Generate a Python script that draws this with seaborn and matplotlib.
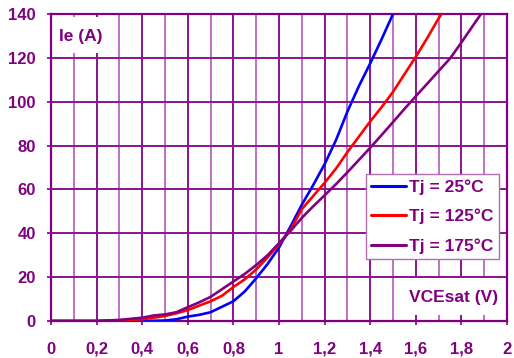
import matplotlib
matplotlib.use("Agg")
import matplotlib.pyplot as plt
import matplotlib.patches as mpatches
from matplotlib.ticker import MultipleLocator, FuncFormatter
import numpy as np
import pandas as pd
import seaborn as sns

# ---- data ----
v25 = [0.0, 0.1, 0.2, 0.3, 0.4, 0.45, 0.5, 0.55, 0.6, 0.65, 0.7, 0.75, 0.8, 0.85,
       0.9, 0.95, 1.0, 1.05, 1.1, 1.15, 1.2, 1.25, 1.3, 1.35, 1.4, 1.45, 1.5]
i25 = [0, 0, 0, 0, 0, 0.1, 0.2, 0.8, 2, 2.8, 4, 6.5, 9, 13.5,
       19.5, 26, 33.5, 43, 53, 62, 71.5, 82.5, 95.5, 107, 117.5, 128.5, 140]

v125 = [0.0, 0.1, 0.2, 0.3, 0.35, 0.4, 0.45, 0.5, 0.55, 0.6, 0.65, 0.7, 0.75, 0.8,
        0.85, 0.9, 0.95, 1.0, 1.05, 1.1, 1.15, 1.2, 1.25, 1.3, 1.35, 1.4, 1.45,
        1.5, 1.55, 1.6, 1.65, 1.7, 1.713]
i125 = [0, 0, 0, 0.3, 0.5, 0.8, 1.5, 2.3, 3.5, 5, 7, 9, 11.5, 15.5,
        19, 23.5, 29, 35, 41.5, 51, 57, 63, 69.5, 77, 84, 91, 97.5,
        104.5, 112.5, 120.5, 129, 138, 140]

v175 = [0.0, 0.1, 0.2, 0.3, 0.35, 0.4, 0.45, 0.5, 0.55, 0.6, 0.65, 0.7, 0.75, 0.8,
        0.85, 0.9, 0.95, 1.0, 1.05, 1.1, 1.15, 1.2, 1.25, 1.3, 1.35, 1.4, 1.45,
        1.5, 1.55, 1.6, 1.65, 1.7, 1.75, 1.8, 1.85, 1.886]
i175 = [0, 0, 0, 0.5, 1, 1.5, 2.5, 3, 4, 6.3, 8.5, 11, 14.5, 18,
        21.5, 25.5, 30, 35.5, 41, 47, 52.3, 57.3, 62.4, 67.8, 73.4, 79, 84.8,
        90.7, 96.7, 102.5, 108.2, 114, 119.7, 127, 134.6, 140]

labels = ["Tj = 25°C", "Tj = 125°C", "Tj = 175°C"]
colors = ["#0000ff", "#ff0000", "#800080"]
x_ticks = [0, 0.2, 0.4, 0.6, 0.8, 1.0, 1.2, 1.4, 1.6, 1.8, 2.0]
y_ticks = [0, 20, 40, 60, 80, 100, 120, 140]

df = pd.concat([
    pd.DataFrame({"V": v25, "I": i25, "T": labels[0]}),
    pd.DataFrame({"V": v125, "I": i125, "T": labels[1]}),
    pd.DataFrame({"V": v175, "I": i175, "T": labels[2]}),
], ignore_index=True)

sns.set_theme(style="white")
plt.rcParams["font.family"] = ["Liberation Sans", "DejaVu Sans"]
plt.rcParams["font.weight"] = "bold"

PURPLE = "#800080"
GRID = "#8a1490"
LIGHT = "#c070c8"

fig = plt.figure(figsize=(5.14, 3.58), dpi=100)
ax = fig.add_axes([51 / 514, 1 - 321 / 358, 456 / 514, 307 / 358])

sns.lineplot(data=df, x="V", y="I", hue="T", hue_order=labels,
             palette=dict(zip(labels, colors)), linewidth=1.9, ax=ax,
             sort=False, estimator=None, zorder=3)

ax.set_xlim(0, 2)
ax.set_ylim(0, 140)
ax.set_xticks(x_ticks)
ax.set_yticks(y_ticks)
ax.xaxis.set_minor_locator(MultipleLocator(0.1))
ax.xaxis.set_major_formatter(FuncFormatter(lambda v, p: ("%g" % round(v, 1)).replace(".", ",")))
ax.set_xlabel("")
ax.set_ylabel("")

ax.set_axisbelow(True)
ax.grid(which="major", axis="both", color=GRID, linewidth=1.4)
ax.grid(which="minor", axis="x", color=LIGHT, linewidth=1.4)
ax.tick_params(axis="x", which="major", length=3, width=1.2, color=PURPLE,
               labelcolor=PURPLE, labelsize=12, pad=12, bottom=True)
ax.tick_params(axis="x", which="minor", length=0)
ax.tick_params(axis="y", length=3, width=1.2, color=PURPLE,
               labelcolor=PURPLE, labelsize=12, pad=8, left=True)
for lab in ax.get_xticklabels() + ax.get_yticklabels():
    lab.set_fontweight("bold")
for s in ax.spines.values():
    s.set_color(PURPLE)
    s.set_linewidth(1.6)

# white boxes behind the axis titles
ax.add_patch(mpatches.Rectangle((0.009, 0.873), 0.131, 0.117, transform=ax.transAxes,
                                facecolor="white", edgecolor="none", zorder=1))
ax.add_patch(mpatches.Rectangle((0.765, 0.02), 0.225, 0.12, transform=ax.transAxes,
                                facecolor="white", edgecolor="none", zorder=1))
ax.text(0.066, 0.928, "Ie (A)", transform=ax.transAxes, ha="center", va="center",
        color=PURPLE, fontsize=12.5, fontweight="bold", zorder=2)
ax.text(0.882, 0.078, "VCEsat (V)", transform=ax.transAxes, ha="center", va="center",
        color=PURPLE, fontsize=12.5, fontweight="bold", zorder=2)

leg = ax.legend(loc="upper right", bbox_to_anchor=(0.982, 0.479), borderaxespad=0,
                frameon=True, fancybox=False, framealpha=1, edgecolor="#b070b0",
                prop={"weight": "bold", "size": 12.5}, handlelength=2.0,
                handletextpad=0.2, borderpad=0.3, labelspacing=0.8, title=None)
leg.get_frame().set_linewidth(1.0)
for t in leg.get_texts():
    t.set_color(PURPLE)
for h in leg.get_lines():
    h.set_linewidth(2.2)
leg.set_zorder(5)

fig.savefig("out.png", dpi=100)
